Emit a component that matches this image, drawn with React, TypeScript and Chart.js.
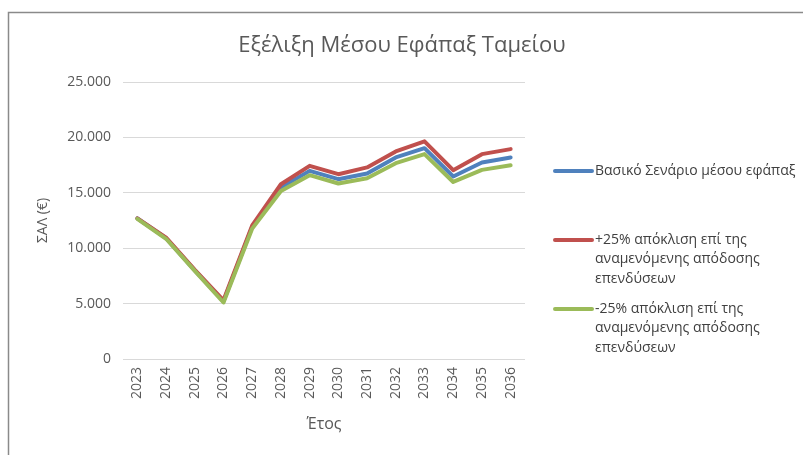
import React, { useEffect, useRef } from "react";
import { Chart, registerables } from "chart.js";

Chart.register(...registerables);

const years = ["2023", "2024", "2025", "2026", "2027", "2028", "2029", "2030", "2031", "2032", "2033", "2034", "2035", "2036"];
const baseScenario = [12700, 10900, 8000, 5200, 11950, 15480, 16980, 16230, 16740, 18190, 19030, 16470, 17740, 18190];
const plus25 = [12700, 10950, 8050, 5300, 12060, 15770, 17430, 16680, 17290, 18730, 19640, 17040, 18490, 18940];
const minus25 = [12650, 10850, 7950, 5100, 11770, 15170, 16590, 15840, 16320, 17670, 18490, 15980, 17070, 17490];

const titleText = "Εξέλιξη Μέσου Εφάπαξ Ταμείου";
const yTitle = "ΣΑΛ (€)";
const xTitle = "Έτος";
const legendItems = [
  { color: "#4f81bd", lines: ["Βασικό Σενάριο μέσου εφάπαξ"] },
  { color: "#c0504d", lines: ["+25% απόκλιση επί της", "αναμενόμενης απόδοσης", "επενδύσεων"] },
  { color: "#9bbb59", lines: ["-25% απόκλιση επί της", "αναμενόμενης απόδοσης", "επενδύσεων"] },
];

const FONT = "'Open Sans', 'Noto Sans', sans-serif";
const TEXT = "#595959";

const fmt = (v: number) => (v === 0 ? "0" : String(v).replace(/\B(?=(\d{3})+(?!\d))/g, "."));

const decorPlugin = {
  id: "decor",
  beforeDraw(chart: any) {
    const ctx = chart.ctx;
    ctx.save();
    ctx.fillStyle = "#ffffff";
    ctx.fillRect(0, 0, chart.width, chart.height);
    ctx.strokeStyle = "#8a8a8a";
    ctx.lineWidth = 1.5;
    ctx.beginPath();
    ctx.moveTo(8.5, chart.height);
    ctx.lineTo(8.5, 12.5);
    ctx.lineTo(chart.width, 12.5);
    ctx.stroke();
    ctx.restore();
  },
  afterDraw(chart: any) {
    const ctx = chart.ctx;
    ctx.save();
    ctx.fillStyle = TEXT;
    ctx.font = `22px ${FONT}`;
    ctx.textAlign = "center";
    ctx.textBaseline = "middle";
    ctx.fillText(titleText, 402, 46);

    const starts = [171, 240, 309];
    const lh = 19.5;
    ctx.font = `14px ${FONT}`;
    ctx.textAlign = "left";
    legendItems.forEach((item, i) => {
      const y = starts[i];
      ctx.strokeStyle = item.color;
      ctx.lineWidth = 4;
      ctx.lineCap = "round";
      ctx.beginPath();
      ctx.moveTo(555, y);
      ctx.lineTo(592, y);
      ctx.stroke();
      ctx.fillStyle = "#404040";
      item.lines.forEach((t, j) => ctx.fillText(t, 595, y + j * lh));
    });
    ctx.restore();
  },
};

export default function App() {
  const ref = useRef<HTMLCanvasElement>(null);
  useEffect(() => {
    if (!ref.current) return;
    const common = { borderWidth: 4, pointRadius: 0, tension: 0, borderJoinStyle: "round" as const, borderCapStyle: "round" as const, fill: false };
    const chart = new Chart(ref.current, {
      type: "line",
      data: {
        labels: years,
        datasets: [
          { label: legendItems[0].lines[0], data: baseScenario, borderColor: "#4f81bd", backgroundColor: "#4f81bd", order: 2, ...common },
          { label: legendItems[1].lines.join(" "), data: plus25, borderColor: "#c0504d", backgroundColor: "#c0504d", order: 1, ...common },
          { label: legendItems[2].lines.join(" "), data: minus25, borderColor: "#9bbb59", backgroundColor: "#9bbb59", order: 0, ...common },
        ],
      },
      options: {
        responsive: false,
        animation: false,
        layout: { padding: { left: 0, top: 82, right: 278, bottom: 0 } },
        plugins: { legend: { display: false }, tooltip: { enabled: false }, title: { display: false } },
        scales: {
          x: {
            offset: true,
            grid: { display: false, drawTicks: false },
            border: { display: false },
            ticks: { minRotation: 90, maxRotation: 90, padding: 8, color: TEXT, font: { family: FONT, size: 14 }, autoSkip: false },
            title: { display: true, text: xTitle, color: TEXT, font: { family: FONT, size: 16 }, padding: { top: 0, bottom: 21 } },
            afterFit: (s: any) => { s.height = 96; },
          },
          y: {
            min: 0,
            max: 25000,
            grid: { color: "#d9d9d9", lineWidth: 1, drawTicks: false },
            border: { display: false },
            ticks: { stepSize: 5000, padding: 12, color: TEXT, font: { family: FONT, size: 14 }, callback: (v: any) => fmt(Number(v)) },
            title: { display: true, text: yTitle, color: TEXT, font: { family: FONT, size: 14 }, padding: { top: 35, bottom: 0 } },
            afterFit: (s: any) => { s.width = 123; },
          },
        },
      },
      plugins: [decorPlugin],
    });
    return () => chart.destroy();
  }, []);
  return (
    <div style={{ position: "fixed", left: 0, top: 0, width: 803, height: 455 }}>
      <canvas ref={ref} width={803} height={455} style={{ display: "block" }} />
    </div>
  );
}
